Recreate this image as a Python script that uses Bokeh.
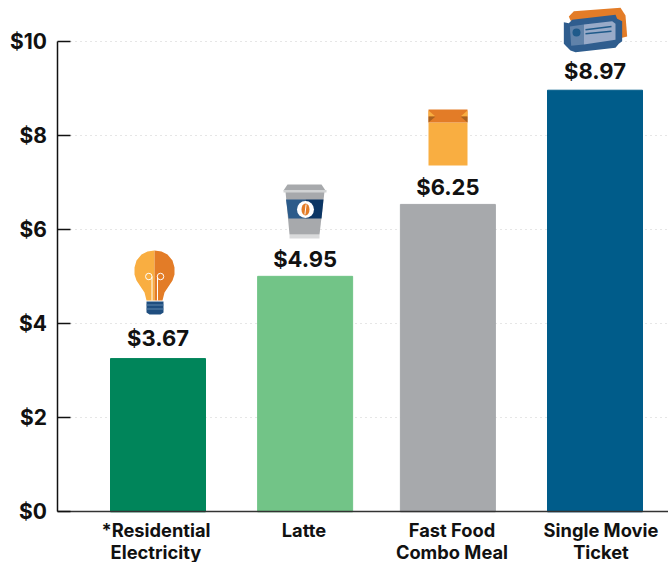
from bokeh.plotting import figure
from bokeh.models import Range1d, FixedTicker, ColumnDataSource
from bokeh.embed import file_html
from bokeh.resources import INLINE
from bokeh.core.properties import value

categories = ["*Residential\nElectricity", "Latte", "Fast Food\nCombo Meal", "Single Movie\nTicket"]
bar_heights = [3.26, 5.01, 6.54, 8.97]
value_labels = ["$3.67", "$4.95", "$6.25", "$8.97"]
bar_colors = ["#00855A", "#72C487", "#A7A9AC", "#005C8A"]
slots = [0, 1.01, 1.99, 3]
label_slots = [-0.014, 1.002, 2.018, 3.041]
y_ticks = [0, 2, 4, 6, 8, 10]
y_tick_labels = ["$0", "$2", "$4", "$6", "$8", "$10"]

FONT = "Inter"
PX_X0, PX_DX = 157.5, 145.67
PX_Y0, PX_DY = 511.3, 47.0


def X(px):
    return (px - PX_X0) / PX_DX


def Y(py):
    return (PX_Y0 - py) / PX_DY


p = figure(width=668, height=562, output_backend="svg", toolbar_location=None,
           x_range=Range1d(X(0), X(668)), y_range=Range1d(Y(562), Y(0)),
           min_border_left=0, min_border_right=0, min_border_top=0, min_border_bottom=0)
p.outline_line_color = None
p.xgrid.visible = False
g = p.ygrid[0]
g.ticker = FixedTicker(ticks=y_ticks[1:])
g.cross_bounds = (X(70), X(668))
g.grid_line_color = "#CCCCCC"
g.grid_line_dash = "1 4"
g.grid_line_width = 1

ya = p.yaxis[0]
ya.fixed_location = X(56.5)
ya.ticker = FixedTicker(ticks=y_ticks)
ya.major_label_overrides = dict(zip(y_ticks, y_tick_labels))
ya.bounds = (0, 10)
ya.axis_line_color = "#111111"
ya.axis_line_width = 1.5
ya.major_tick_line_color = "#111111"
ya.major_tick_line_width = 1.5
ya.major_tick_in = 13
ya.major_tick_out = 0
ya.minor_tick_line_color = None
ya.major_label_text_font = FONT
ya.major_label_text_font_size = "21px"
ya.major_label_text_font_style = "bold"
ya.major_label_text_color = "#111111"
ya.major_label_standoff = 10

xa = p.xaxis[0]
xa.fixed_location = 0
xa.bounds = (X(56.5), X(668))
xa.ticker = FixedTicker(ticks=label_slots)
xa.major_label_overrides = dict(zip(label_slots, categories))
xa.axis_line_color = "#333333"
xa.axis_line_width = 1.5
xa.major_tick_line_color = None
xa.minor_tick_line_color = None
xa.major_label_text_font = FONT
xa.major_label_text_font_size = "18.3px"
xa.major_label_text_font_style = "bold"
xa.major_label_text_line_height = 1.0
xa.major_label_text_color = "#111111"
xa.major_label_standoff = 1

src = ColumnDataSource(dict(x=slots, top=bar_heights, color=bar_colors, label=value_labels,
                            dy=[-21, -17, -17, -19]))
p.vbar(x="x", top="top", bottom=0, width=95 / PX_DX, color="color", source=src)
p.text(x="x", y="top", text="label", source=src, y_offset="dy", text_align="center",
       text_baseline="middle", text_font=value(FONT), text_font_size="22px",
       text_font_style="bold", text_color="#111111")


def poly(points, color):
    p.patch([X(a) for a, _ in points], [Y(b) for _, b in points], color=color, line_width=0)


def seg(points, color, width):
    p.line([X(a) for a, _ in points], [Y(b) for _, b in points], line_color=color, line_width=width)


def ell(cx, cy, w, h, color, fill=True):
    p.ellipse(x=[X(cx)], y=[Y(cy)], width=[w / PX_DX], height=[h / PX_DY],
              fill_color=color if fill else None, line_color="white" if not fill else None,
              line_width=1)


ORANGE, DARK_ORANGE = "#F9AE41", "#E37C27"

# bulb
bulb_l = [(154, 250), (147, 251), (141, 254), (136, 260), (134, 267), (134, 274), (136, 280),
          (140, 286), (144, 292), (146, 300), (154, 300)]
bulb_r = [(308 - a, b) for a, b in bulb_l]
poly(bulb_l, ORANGE)
poly(bulb_r, DARK_ORANGE)
ell(148.3, 276, 6.5, 6.5, None, False)
ell(160, 276, 6.5, 6.5, None, False)
seg([(151.5, 276), (151.5, 300)], "white", 1)
seg([(157, 276), (157, 300)], "white", 1)
poly([(146, 301), (163, 301), (163, 312), (160, 314), (149, 314), (146, 312)], "#1F4E7F")
for yy in (304.5, 308.5):
    seg([(146, yy), (163, yy)], "#5F86AE", 1)

# coffee cup
poly([(289, 234), (319, 234), (319, 238), (289, 238)], "#D9DADB")
poly([(285, 191), (324, 191), (319, 234), (289, 234)], "#A7A9AC")
poly([(287, 184), (321, 184), (325, 190), (283, 190)], "#A7A9AC")
poly([(283, 189.5), (326, 189.5), (326, 192), (283, 192)], "#D1D3D4")
poly([(285.5, 199), (305, 199), (305, 218), (288, 218)], "#2C5B8A")
poly([(305, 199), (323, 199), (321, 218), (305, 218)], "#0B3564")
ell(305, 209, 17, 17, "white")
ell(305, 209, 8, 12, DARK_ORANGE)
seg([(305.6, 204), (304.4, 214)], "white", 1)

# food bag
poly([(428, 122), (467, 122), (467, 165), (428, 165)], ORANGE)
poly([(428, 109), (467, 109), (467, 122), (428, 122)], DARK_ORANGE)
poly([(428, 110), (435, 116), (428, 116)], ORANGE)
poly([(428, 116), (435, 116), (428, 122)], "#A9621F")
poly([(467, 110), (460, 116), (467, 116)], ORANGE)
poly([(467, 116), (460, 116), (467, 122)], "#A9621F")


# movie tickets (points read in a 3x crop of the icon)
def tk(points):
    return [(550 + a / 3, b / 3) for a, b in points]


poly(tk([(55, 48), (70, 32), (210, 22), (225, 45), (230, 108), (215, 112), (60, 60)]), DARK_ORANGE)
poly(tk([(40, 65), (55, 68), (65, 58), (195, 43), (200, 55), (215, 62), (215, 122), (205, 130),
         (195, 142), (75, 155), (60, 150), (45, 135), (40, 130)]), "#2F5D8E")
poly(tk([(58, 78), (100, 72), (100, 132), (62, 136)]), "#6082A9")
poly(tk([(100, 72), (185, 62), (195, 70), (195, 118), (100, 132)]), "#98AAC8")
ell(576, 32, 8, 8, "#1F5A8A")
seg(tk([(105, 88), (183, 78)]), "#1F5A8A", 1.5)
seg(tk([(105, 100), (183, 92)]), "#1F5A8A", 1.5)

open("out.html", "w").write(file_html(p, INLINE))
